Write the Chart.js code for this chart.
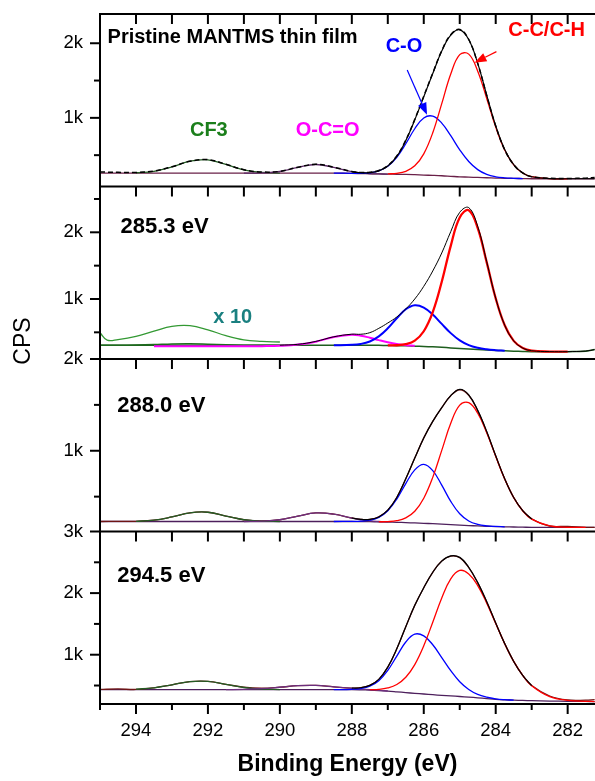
<!DOCTYPE html>
<html>
<head>
<meta charset="utf-8">
<title>C 1s spectra</title>
<script src="https://cdn.jsdelivr.net/npm/chart.js@4.4.1/dist/chart.umd.min.js"></script>
<style>
  html, body { margin: 0; padding: 0; background: #fff; overflow: hidden; }
  canvas { display: block; }
</style>
</head>
<body>
<canvas id="xpsChart" width="595" height="781"></canvas>
<script>
// C 1s spectra: pristine film and the three irradiation energies, one panel each

// binding energy grid (eV), high to low as plotted
const energy = [295, 294.5, 294, 293.5, 293, 292.5, 292, 291.5, 291, 290.5, 290, 289.5, 289, 288.5,
  288, 287.75, 287.5, 287.25, 287, 286.75, 286.5, 286.25, 286, 285.75, 285.5, 285.25, 285, 284.75,
  284.5, 284.25, 284, 283.75, 283.5, 283.25, 283, 282.5, 282, 281.5, 281.25];
const energyX10 = [295, 294.8, 294.5, 294, 293.5, 293, 292.5, 292, 291.5, 291, 290.5, 290];

const xTicks = [295, 294, 293, 292, 291, 290, 289, 288, 287, 286, 285, 284, 283, 282];

// pristine film
const pristineMeasured = [275, 270, 268, 287, 345, 418, 440, 378, 305, 275, 283, 338, 377, 338, 282, 268, 270, 295, 360, 490,
  700, 980, 1290, 1600, 1900, 2115, 2185, 2050, 1730, 1300, 890, 572, 370, 262, 212, 190, 188, 192, 200];
const pristineEnvelope = [279, 265, 266, 290, 354, 483, 695, 973, 1284, 1594, 1896, 2110, 2180, 2050, 1731, 1305, 894, 575,
  372, 261, 211, 186, 184, 184, 184];
const pristineBackground = [259, 259, 259, 259, 259, 259, 259, 259, 259, 259, 259, 259, 259, 259, 256, 253, 250, 248, 246,
  244, 242, 238, 233, 229, 224, 217, 210, 206, 201, 197, 193, 190, 188, 186, 184, 184, 184, 184, 184];
const pristineCF3 = [264, 284, 343, 419, 438, 375, 303, 269, 260];
const pristineOCO = [259, 262, 281, 336, 375, 336, 278, 262, 253, 249, 246];
const pristineCO = [259, 257, 256, 263, 288, 351, 471, 653, 854, 999, 1023, 930, 761, 572, 415, 306, 242, 210, 196, 190, 186];
const pristineCC = [249, 256, 284, 357, 518, 800, 1190, 1588, 1847, 1854, 1626, 1260, 877, 569, 370, 261, 211, 186, 184];

// 285.3 eV
const ev285Envelope = [307, 320, 364, 433, 472, 471, 495, 560, 640, 730, 850, 1000, 1190, 1420, 1690, 2010, 2300, 2370, 2088,
  1558, 1012, 607, 372, 265, 224, 211, 210, 220, 240];
const ev285Background = [305, 305, 305, 305, 305, 305, 305, 305, 305, 305, 305, 305, 305, 305, 305, 305, 305, 305, 303, 300,
  297, 293, 288, 282, 275, 266, 257, 250, 243, 236, 229, 223, 217, 213, 210, 210, 210, 218, 242];
const ev285CF3 = [305, 306, 309, 316, 326, 329, 322, 313, 308, 306, 305];
const ev285CF3x10 = [495, 382, 392, 440, 518, 590, 600, 537, 450, 387, 365, 355];
const ev285OCO = [292, 292, 292, 292, 292, 292, 293, 298, 316, 360, 430, 465, 450, 419, 383, 350, 324, 308, 297];
const ev285CO = [305, 312, 326, 363, 439, 560, 711, 846, 907, 872, 766, 626, 488, 380, 309, 268, 245, 232, 224];
const ev285CC = [304, 306, 322, 375, 516, 803, 1258, 1797, 2222, 2332, 2063, 1549, 1009, 606, 372, 265, 224, 211, 210];

// 288.0 eV
const ev288Measured = [229, 230, 231, 243, 279, 324, 330, 288, 248, 235, 248, 287, 322, 309, 267, 252, 252, 279, 352, 491,
  694, 920, 1140, 1320, 1470, 1600, 1665, 1605, 1435, 1205, 942, 693, 490, 347, 258, 180, 176, 166, 164];
const ev288Envelope = [267, 252, 252, 279, 352, 491, 694, 920, 1140, 1320, 1470, 1600, 1670, 1610, 1440, 1210, 945, 695, 490, 347, 256];
const ev288Background = [229, 229, 229, 229, 229, 229, 229, 229, 229, 229, 229, 229, 229, 229, 229, 228, 227, 225, 223, 220,
  217, 213, 209, 205, 200, 195, 190, 185, 181, 177, 174, 171, 169, 167, 165, 164, 164, 164, 164];
const ev288CF3 = [231, 243, 279, 324, 330, 288, 248, 232, 229];
const ev288OCO = [229, 232, 248, 287, 322, 309, 266, 248, 236, 229, 224];
const ev288CO = [229, 230, 232, 243, 274, 346, 473, 642, 792, 851, 784, 625, 448, 313, 234, 197, 181, 175, 171];
const ev288CC = [226, 228, 238, 269, 341, 483, 710, 1004, 1299, 1497, 1524, 1409, 1197, 940, 692, 489, 346, 255, 181, 166, 164];

// 294.5 eV
const ev294Measured = [436, 444, 436, 463, 512, 563, 567, 520, 472, 457, 473, 497, 501, 479, 459, 464, 502, 600, 798, 1096,
  1455, 1801, 2088, 2338, 2520, 2600, 2575, 2415, 2168, 1860, 1514, 1180, 891, 664, 500, 330, 265, 262, 270];
const ev294Envelope = [459, 464, 502, 600, 798, 1096, 1455, 1801, 2088, 2338, 2520, 2605, 2580, 2420, 2170, 1860, 1514, 1180, 891, 664, 498];
const ev294Background = [433, 433, 433, 433, 433, 433, 433, 433, 433, 433, 433, 433, 433, 433, 433, 430, 425, 418, 410, 398,
  385, 373, 362, 351, 340, 331, 322, 312, 300, 288, 276, 268, 262, 258, 254, 248, 243, 241, 240];
const ev294CF3 = [440, 463, 512, 563, 567, 519, 468, 442, 434];
const ev294OCO = [434, 437, 448, 472, 497, 501, 479, 453, 441, 431, 420, 411];
const ev294CO = [433, 439, 451, 489, 579, 746, 977, 1206, 1334, 1305, 1162, 954, 740, 562, 436, 356, 311, 284, 270, 262];
const ev294CC = [432, 437, 461, 517, 634, 840, 1145, 1527, 1922, 2232, 2368, 2312, 2122, 1837, 1506, 1178, 891, 664, 498, 320, 259, 244, 240];

// y range and tick values of each panel, top to bottom
const panelIds = ['y1', 'y2', 'y3', 'y4'];
const panelMin = [80, 100, 120, 200];
const panelMax = [2392, 2687, 2000, 3000];
const panelTicks = [
  [500, 1000, 1500, 2000],
  [500, 1000, 1500, 2000, 2500],
  [500, 1000, 1500, 2000],
  [500, 1000, 1500, 2000, 2500, 3000]
];

const FONT = '"Liberation Sans", Arial, sans-serif';
Chart.defaults.font.family = FONT;
Chart.defaults.color = '#000';

// values[i] sits at xs[from + i]
const along = (values, from = 0, xs = energy) => values.map((v, i) => ({ x: xs[from + i], y: v }));

function trace(label, yAxisID, data, color, width, order, extra = {}) {
  return { label, yAxisID, data, borderColor: color, borderWidth: width, order, ...extra };
}

const C_RED = '#ff0000', C_BLUE = '#0000ff', C_CF3 = '#245c24', C_OCO = '#6d2e7e',
  C_BG = '#4d1f5c', C_DATA = '#6e1414';

const datasets = [
  // pristine
  trace('measured', 'y1', along(pristineMeasured), '#000', 1.5, 0, { borderDash: [5, 3] }),
  trace('envelope', 'y1', along(pristineEnvelope, 14), '#000', 1.2, 1),
  trace('C-C/C-H', 'y1', along(pristineCC, 18), C_RED, 1.3, 2),
  trace('C-O', 'y1', along(pristineCO, 13), C_BLUE, 1.3, 3),
  trace('O-C=O', 'y1', along(pristineOCO, 8), '#5c2a66', 1.3, 4),
  trace('CF3', 'y1', along(pristineCF3, 2), C_CF3, 1.3, 5),
  trace('background', 'y1', along(pristineBackground), '#6a2048', 1.3, 7),
  // 285.3 eV
  trace('envelope', 'y2', along(ev285Envelope, 10), '#000', 1, 1),
  trace('C-C/C-H', 'y2', along(ev285CC, 18), C_RED, 2.3, 2),
  trace('C-O', 'y2', along(ev285CO, 13), C_BLUE, 2, 3),
  trace('O-C=O', 'y2', along(ev285OCO, 3), '#ff00ff', 2, 4),
  trace('CF3 x10', 'y2', along(ev285CF3x10, 0, energyX10), '#339933', 1.3, 5),
  trace('CF3', 'y2', along(ev285CF3), '#1e6b1e', 1.5, 6),
  trace('background', 'y2', along(ev285Background), '#1e5e1e', 1.5, 7),
  // 288.0 eV
  trace('envelope', 'y3', along(ev288Envelope, 14), '#000', 1.2, 1),
  trace('C-C/C-H', 'y3', along(ev288CC, 17), C_RED, 1.3, 2),
  trace('C-O', 'y3', along(ev288CO, 13), C_BLUE, 1.3, 3),
  trace('O-C=O', 'y3', along(ev288OCO, 8), C_OCO, 1.3, 4),
  trace('CF3', 'y3', along(ev288CF3, 2), C_CF3, 1.3, 5),
  trace('measured', 'y3', along(ev288Measured), C_DATA, 1.3, 6),
  trace('background', 'y3', along(ev288Background), C_BG, 1.3, 7),
  // 294.5 eV
  trace('envelope', 'y4', along(ev294Envelope, 14), '#000', 1.2, 1),
  trace('C-C/C-H', 'y4', along(ev294CC, 16), C_RED, 1.3, 2),
  trace('C-O', 'y4', along(ev294CO, 13), C_BLUE, 1.3, 3),
  trace('O-C=O', 'y4', along(ev294OCO, 7), C_OCO, 1.3, 4),
  trace('CF3', 'y4', along(ev294CF3, 2), C_CF3, 1.3, 5),
  trace('measured', 'y4', along(ev294Measured), C_DATA, 1.3, 6),
  trace('background', 'y4', along(ev294Background), C_BG, 1.3, 7)
];

// text placed in data coordinates of its panel
const notes = [
  { axis: 'y1', e: 294.79, v: 2000, text: 'Pristine MANTMS thin film', color: '#000', size: 20 },
  { axis: 'y1', e: 292.5, v: 763, text: 'CF3', color: '#1b7f1b', size: 20 },
  { axis: 'y1', e: 289.56, v: 759, text: 'O-C=O', color: '#ff00ff', size: 20 },
  { axis: 'y1', e: 287.06, v: 1888, text: 'C-O', color: C_BLUE, size: 20 },
  { axis: 'y1', e: 283.65, v: 2098, text: 'C-C/C-H', color: C_RED, size: 20 },
  { axis: 'y2', e: 294.43, v: 1994, text: '285.3 eV', color: '#000', size: 22 },
  { axis: 'y2', e: 291.85, v: 640, text: 'x 10', color: '#1a8080', size: 20 },
  { axis: 'y3', e: 294.52, v: 1422, text: '288.0 eV', color: '#000', size: 22 },
  { axis: 'y4', e: 294.52, v: 2178, text: '294.5 eV', color: '#000', size: 22 }
];

const pointers = [
  { axis: 'y1', from: [286.46, 1642], to: [285.91, 1040], color: C_BLUE },
  { axis: 'y1', from: [283.98, 1888], to: [284.59, 1740], color: C_RED }
];

function drawArrow(ctx, x0, y0, x1, y1, color) {
  const a = Math.atan2(y1 - y0, x1 - x0), len = 12, half = 4.5;
  const bx = x1 - len * Math.cos(a), by = y1 - len * Math.sin(a);
  ctx.strokeStyle = color;
  ctx.fillStyle = color;
  ctx.lineWidth = 1.2;
  ctx.beginPath(); ctx.moveTo(x0, y0); ctx.lineTo(bx, by); ctx.stroke();
  ctx.beginPath();
  ctx.moveTo(x1, y1);
  ctx.lineTo(bx + half * Math.sin(a), by - half * Math.cos(a));
  ctx.lineTo(bx - half * Math.sin(a), by + half * Math.cos(a));
  ctx.closePath();
  ctx.fill();
}

// frames, inward/outward ticks, labels and arrows for the stacked panels
const panelFrames = {
  id: 'panelFrames',
  afterDraw(chart) {
    const { ctx, chartArea: area, scales } = chart;
    const xs = scales.x;
    const seg = (x0, y0, x1, y1) => { ctx.beginPath(); ctx.moveTo(x0, y0); ctx.lineTo(x1, y1); ctx.stroke(); };
    ctx.save();
    ctx.strokeStyle = '#000';
    ctx.lineWidth = 2;

    panelIds.forEach((id, k) => {
      const ys = scales[id];
      seg(area.left, ys.top, area.right, ys.top);
      xTicks.forEach(v => { const px = xs.getPixelForValue(v); seg(px, ys.top, px, ys.top + 10); });
      panelTicks[k].forEach(v => {
        const py = ys.getPixelForValue(v);
        seg(area.left, py, area.left - (v % 1000 === 0 ? 10 : 6), py);
      });
    });
    seg(area.left, area.bottom, area.right, area.bottom);
    seg(area.left, area.top - 1, area.left, area.bottom + 1);
    xTicks.forEach(v => {
      const px = xs.getPixelForValue(v);
      seg(px, area.bottom, px, area.bottom + (v % 2 === 0 ? 10 : 6));
    });

    ctx.textBaseline = 'alphabetic';
    ctx.textAlign = 'left';
    notes.forEach(n => {
      ctx.font = `bold ${n.size}px ${FONT}`;
      ctx.fillStyle = n.color;
      ctx.fillText(n.text, xs.getPixelForValue(n.e), scales[n.axis].getPixelForValue(n.v));
    });

    pointers.forEach(p => {
      const ys = scales[p.axis];
      drawArrow(ctx, xs.getPixelForValue(p.from[0]), ys.getPixelForValue(p.from[1]),
        xs.getPixelForValue(p.to[0]), ys.getPixelForValue(p.to[1]), p.color);
    });

    // shared y title
    ctx.translate(area.left - 76, 341);
    ctx.rotate(-Math.PI / 2);
    ctx.font = `23px ${FONT}`;
    ctx.fillStyle = '#000';
    ctx.textAlign = 'center';
    ctx.textBaseline = 'middle';
    ctx.fillText('CPS', 0, 0);
    ctx.restore();
  }
};

function panelAxis(k) {
  return {
    type: 'linear',
    position: 'left',
    stack: 'panels',
    stackWeight: 1,
    weight: 4 - k,
    min: panelMin[k],
    max: panelMax[k],
    grid: { display: false, drawTicks: false },
    border: { display: false },
    ticks: {
      padding: 17,
      autoSkip: false,
      font: { size: 18.5 },
      color: '#000',
      callback: v => (v % 1000 === 0 ? v / 1000 + 'k' : '')
    },
    afterBuildTicks: s => { s.ticks = panelTicks[k].map(value => ({ value })); },
    afterFit: s => { s.width = 100; s.paddingTop = 0; s.paddingBottom = 0; }
  };
}

const scales = {
  x: {
    type: 'linear',
    reverse: true,
    min: 281.24,
    max: 295,
    grid: { display: false, drawTicks: false },
    border: { display: false },
    ticks: {
      padding: 16,
      autoSkip: false,
      maxRotation: 0,
      font: { size: 18.5 },
      color: '#000',
      callback: v => (v % 2 === 0 ? String(v) : '')
    },
    afterBuildTicks: s => { s.ticks = xTicks.map(value => ({ value })); },
    title: {
      display: true,
      text: 'Binding Energy (eV)',
      color: '#000',
      font: { size: 23, weight: 'bold' },
      padding: { top: 0, bottom: 3 }
    },
    afterFit: s => { s.height = 77; s.paddingLeft = 0; s.paddingRight = 0; }
  }
};
panelIds.slice().reverse().forEach(id => { scales[id] = panelAxis(panelIds.indexOf(id)); });

new Chart(document.getElementById('xpsChart'), {
  type: 'line',
  data: { datasets },
  options: {
    responsive: false,
    devicePixelRatio: 1,
    animation: false,
    layout: { padding: { top: 14, left: 0, right: 0, bottom: 0 } },
    elements: {
      point: { radius: 0 },
      line: { fill: false, tension: 0.4, borderJoinStyle: 'round' }
    },
    plugins: { legend: { display: false }, tooltip: { enabled: false } },
    scales
  },
  plugins: [panelFrames]
});
</script>
</body>
</html>
